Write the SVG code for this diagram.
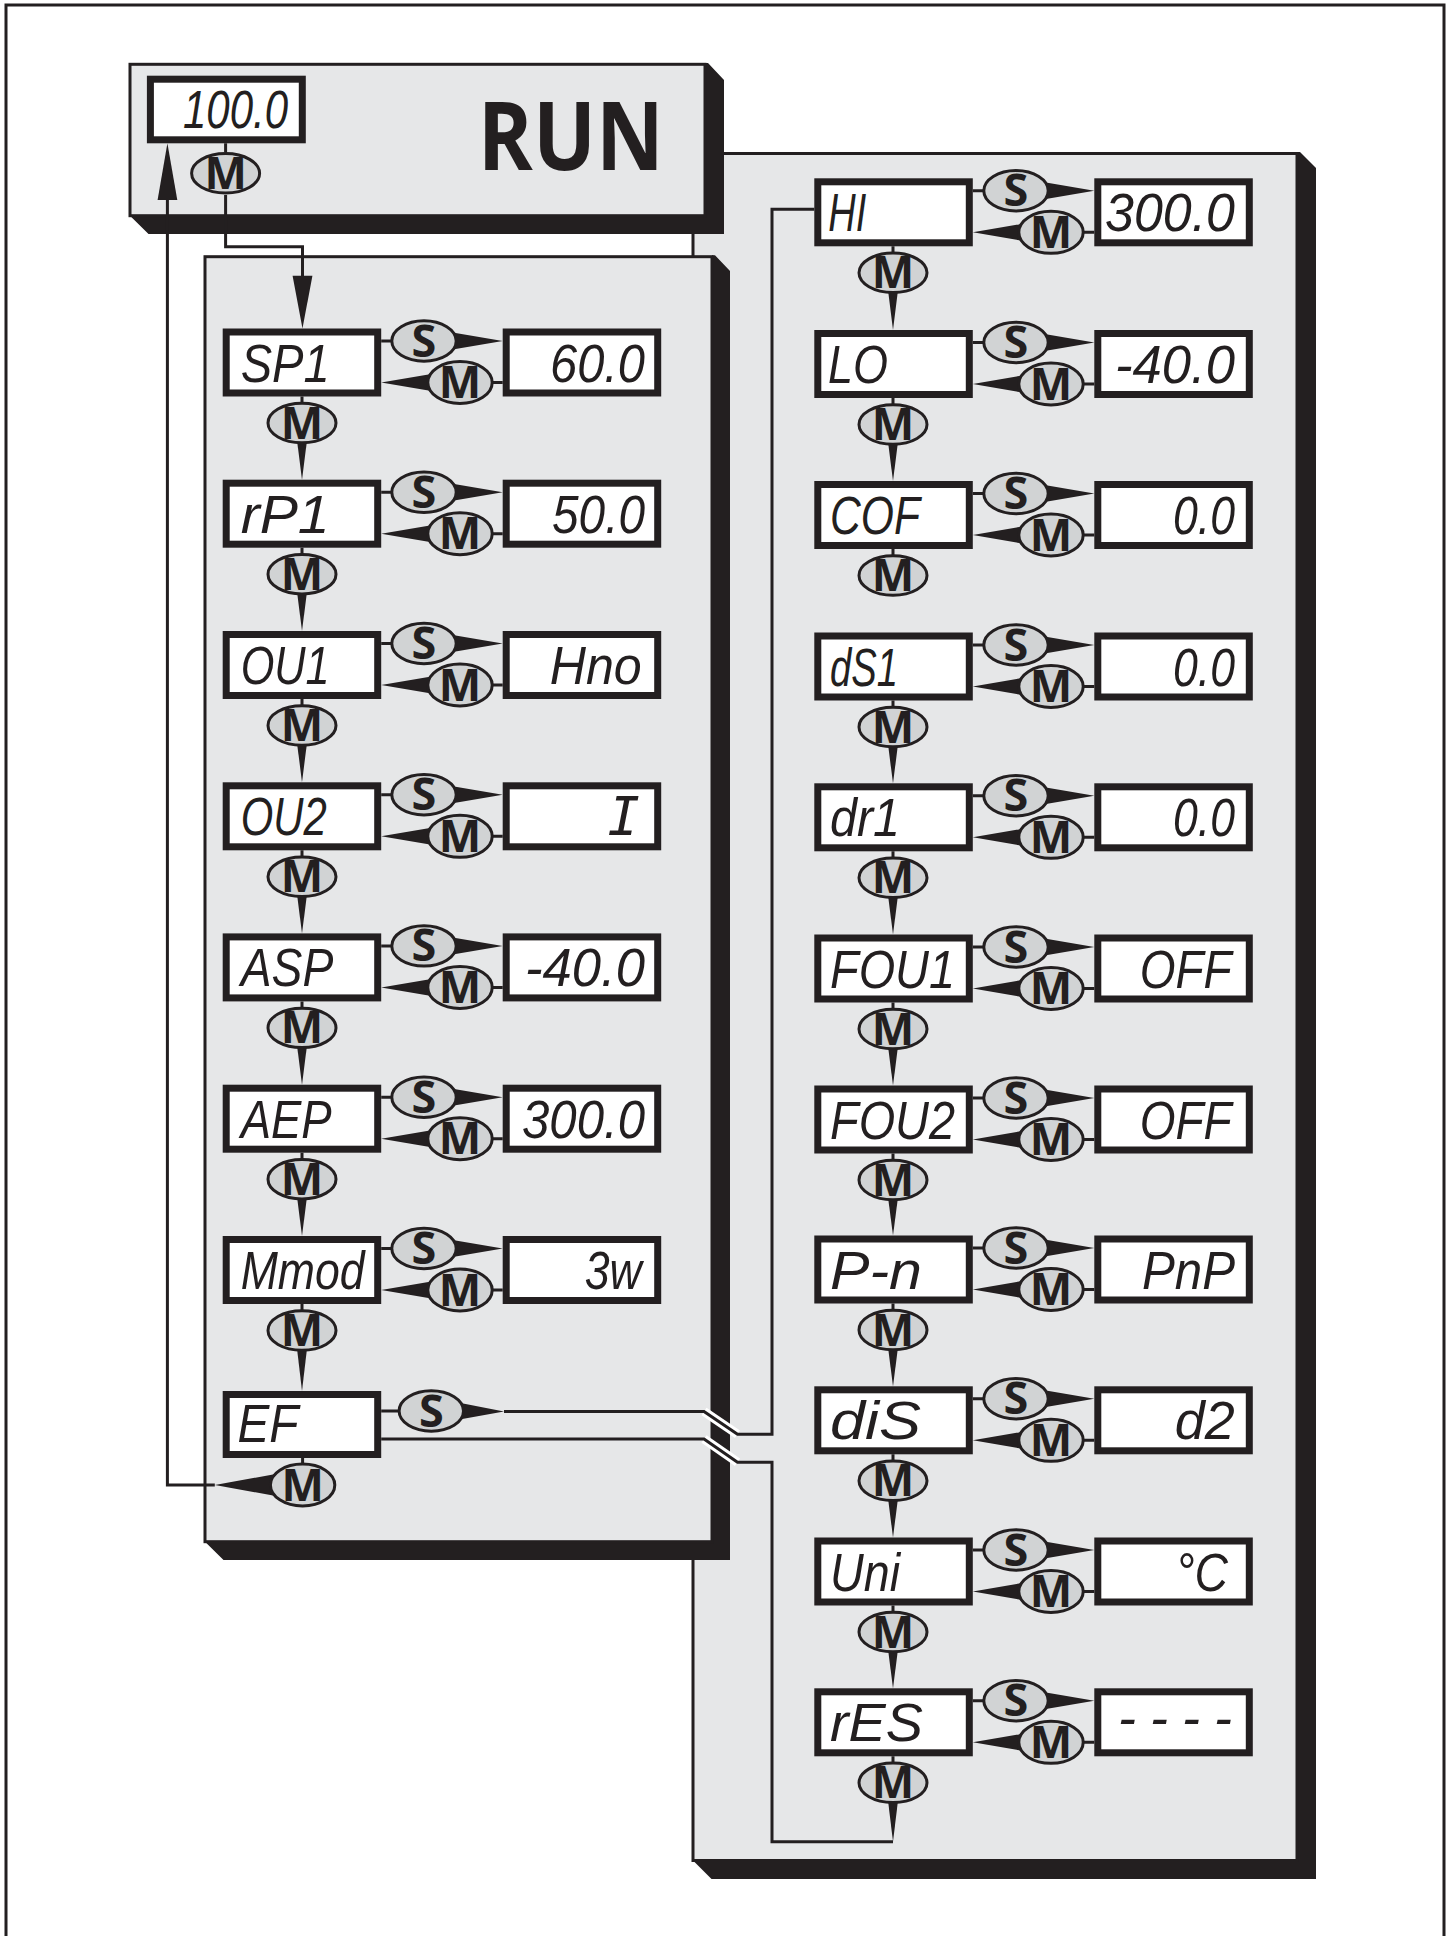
<svg xmlns="http://www.w3.org/2000/svg" width="1450" height="1936" viewBox="0 0 1450 1936">
<style>
.pnl{fill:#e6e7e8;stroke:#231f20;stroke-width:3}
.sh{fill:#231f20}
.box{fill:#fff;stroke:#231f20;stroke-width:7}
.btn{fill:#d1d3d4;stroke:#231f20;stroke-width:3}
.bt{font-family:"Open Sans","Liberation Sans",sans-serif;font-weight:700;font-size:45px;text-anchor:middle;fill:#231f20}
.ln{fill:none;stroke:#231f20;stroke-width:3}
.cas{fill:none;stroke:#fff;stroke-width:9}
.wd{fill:#231f20}
.seg{font-family:"Liberation Sans",Arial,sans-serif;font-style:italic;font-size:54px;fill:#231f20}
.val{font-family:"Liberation Sans",Arial,sans-serif;font-style:italic;font-size:54px;fill:#231f20;text-anchor:end}
.run{font-family:"Open Sans","Liberation Sans",sans-serif;font-weight:700;font-size:95px;fill:#231f20}
</style>
<defs>
<g id="bS"><ellipse rx="32.2" ry="20.2" class="btn"/><text class="bt" y="15.5">S</text></g>
<g id="bM"><ellipse rx="32.2" ry="21" class="btn"/><text class="bt" y="15.5">M</text></g>
<g id="bV"><ellipse rx="34" ry="19.7" class="btn"/><text class="bt" y="15.5">M</text></g>
</defs>
<rect width="1450" height="1936" fill="#fff"/>
<path d="M6,1936 V5 H1444 V1936" fill="none" stroke="#231f20" stroke-width="3"/>

<g id="panels">
<g id="panel-ext">
<polygon class="sh" points="1296,152 1300,152 1316,168 1316,1879 711.5,1879 693,1860.5 1296,1860.5"/>
<rect class="pnl" x="693" y="153.5" width="604" height="1707"/>
</g>
<g id="panel-run">
<polygon class="sh" points="705,63 708,63 724,80 724,234 148.5,234 130,215.7 705,215.7"/>
<rect class="pnl" x="130" y="64.3" width="575" height="151.4"/>
<text class="run" x="477.8" y="170" textLength="186" lengthAdjust="spacingAndGlyphs">RUN</text>
</g>
<g id="panel-param">
<polygon class="sh" points="712,255.2 715,255.2 730,271 730,1560 223.5,1560 205,1541.7 712,1541.7"/>
<rect class="pnl" x="205" y="256.7" width="507" height="1285"/>
</g>
</g>

<g id="connectors">
<path class="ln" d="M225.6,143.3 V152 M225.6,195 V246.7 H302.5 V278"/>
<polygon class="wd" points="292.6,275.7 312.4,275.7 302.5,328.5"/>
<path class="ln" d="M214.8,1485 H167.4 V200"/>
<polygon class="wd" points="157.6,200 177.3,200 167.4,143.3"/>
<path class="cas" d="M704,1411.5 L737.5,1434.3 M704,1439 L737.5,1462.3"/>
<path class="ln" d="M504,1411.5 H704 L737.5,1434.3 H772 V209.3 H814.3"/>
<path class="ln" d="M381.2,1439 H704 L737.5,1462.3 H772 V1841.7 H893"/>
<path class="ln" d="M381.2,1411 H399 M302.6,1458 V1464"/>
<polygon class="wd" points="440,1399 440,1423 504,1411.5"/>
<polygon class="wd" points="292,1471 292,1499 214.8,1485"/>
<!-- left column -->
<path class="ln" d="M381.2,341H391 M493,382.5H502.7 M302,396.5V403.5"/>
<polygon class="wd" points="432,329 432,353 502.7,341"/><polygon class="wd" points="452,370.5 452,394.5 381.2,382.5"/><polygon class="wd" points="296,432.5 308,432.5 302,479.7"/>
<path class="ln" d="M381.2,492.2H391 M493,533.7H502.7 M302,547.7V554.7"/>
<polygon class="wd" points="432,480.2 432,504.2 502.7,492.2"/><polygon class="wd" points="452,521.7 452,545.7 381.2,533.7"/><polygon class="wd" points="296,583.7 308,583.7 302,631"/>
<path class="ln" d="M381.2,643.5H391 M493,685H502.7 M302,699V706"/>
<polygon class="wd" points="432,631.5 432,655.5 502.7,643.5"/><polygon class="wd" points="452,673 452,697 381.2,685"/><polygon class="wd" points="296,735 308,735 302,782.3"/>
<path class="ln" d="M381.2,794.8H391 M493,836.3H502.7 M302,850.3V857.3"/>
<polygon class="wd" points="432,782.8 432,806.8 502.7,794.8"/><polygon class="wd" points="452,824.3 452,848.3 381.2,836.3"/><polygon class="wd" points="296,886.3 308,886.3 302,933.4"/>
<path class="ln" d="M381.2,945.9H391 M493,987.4H502.7 M302,1001.4V1008.4"/>
<polygon class="wd" points="432,933.9 432,957.9 502.7,945.9"/><polygon class="wd" points="452,975.4 452,999.4 381.2,987.4"/><polygon class="wd" points="296,1037.4 308,1037.4 302,1084.7"/>
<path class="ln" d="M381.2,1097.2H391 M493,1138.7H502.7 M302,1152.7V1159.7"/>
<polygon class="wd" points="432,1085.2 432,1109.2 502.7,1097.2"/><polygon class="wd" points="452,1126.7 452,1150.7 381.2,1138.7"/><polygon class="wd" points="296,1188.7 308,1188.7 302,1236"/>
<path class="ln" d="M381.2,1248.5H391 M493,1290H502.7 M302,1304V1311"/>
<polygon class="wd" points="432,1236.5 432,1260.5 502.7,1248.5"/><polygon class="wd" points="452,1278 452,1302 381.2,1290"/><polygon class="wd" points="296,1340 308,1340 302,1391"/>
<!-- right column -->
<path class="ln" d="M972.8,190.8H983 M1084,232.3H1094.3 M893,246.3V253.3"/>
<polygon class="wd" points="1024,178.8 1024,202.8 1094.3,190.8"/><polygon class="wd" points="1043,220.3 1043,244.3 972.8,232.3"/><polygon class="wd" points="887,282.3 899,282.3 893,330"/>
<path class="ln" d="M972.8,342.5H983 M1084,384H1094.3 M893,398V405"/>
<polygon class="wd" points="1024,330.5 1024,354.5 1094.3,342.5"/><polygon class="wd" points="1043,372 1043,396 972.8,384"/><polygon class="wd" points="887,434 899,434 893,481"/>
<path class="ln" d="M972.8,493.5H983 M1084,535H1094.3 M893,549V556"/>
<polygon class="wd" points="1024,481.5 1024,505.5 1094.3,493.5"/><polygon class="wd" points="1043,523 1043,547 972.8,535"/>
<path class="ln" d="M972.8,645H983 M1084,686.5H1094.3 M893,700.5V707.5"/>
<polygon class="wd" points="1024,633 1024,657 1094.3,645"/><polygon class="wd" points="1043,674.5 1043,698.5 972.8,686.5"/><polygon class="wd" points="887,736.5 899,736.5 893,783.3"/>
<path class="ln" d="M972.8,795.8H983 M1084,837.3H1094.3 M893,851.3V858.3"/>
<polygon class="wd" points="1024,783.8 1024,807.8 1094.3,795.8"/><polygon class="wd" points="1043,825.3 1043,849.3 972.8,837.3"/><polygon class="wd" points="887,887.3 899,887.3 893,934.5"/>
<path class="ln" d="M972.8,947H983 M1084,988.5H1094.3 M893,1002.5V1009.5"/>
<polygon class="wd" points="1024,935 1024,959 1094.3,947"/><polygon class="wd" points="1043,976.5 1043,1000.5 972.8,988.5"/><polygon class="wd" points="887,1038.5 899,1038.5 893,1085.5"/>
<path class="ln" d="M972.8,1098H983 M1084,1139.5H1094.3 M893,1153.5V1160.5"/>
<polygon class="wd" points="1024,1086 1024,1110 1094.3,1098"/><polygon class="wd" points="1043,1127.5 1043,1151.5 972.8,1139.5"/><polygon class="wd" points="887,1189.5 899,1189.5 893,1235.5"/>
<path class="ln" d="M972.8,1248H983 M1084,1289.5H1094.3 M893,1303.5V1310.5"/>
<polygon class="wd" points="1024,1236 1024,1260 1094.3,1248"/><polygon class="wd" points="1043,1277.5 1043,1301.5 972.8,1289.5"/><polygon class="wd" points="887,1339.5 899,1339.5 893,1386.3"/>
<path class="ln" d="M972.8,1398.8H983 M1084,1440.3H1094.3 M893,1454.3V1461.3"/>
<polygon class="wd" points="1024,1386.8 1024,1410.8 1094.3,1398.8"/><polygon class="wd" points="1043,1428.3 1043,1452.3 972.8,1440.3"/><polygon class="wd" points="887,1490.3 899,1490.3 893,1537.5"/>
<path class="ln" d="M972.8,1550H983 M1084,1591.5H1094.3 M893,1605.5V1612.5"/>
<polygon class="wd" points="1024,1538 1024,1562 1094.3,1550"/><polygon class="wd" points="1043,1579.5 1043,1603.5 972.8,1591.5"/><polygon class="wd" points="887,1641.5 899,1641.5 893,1688.3"/>
<path class="ln" d="M972.8,1700.8H983 M1084,1742.3H1094.3 M893,1756.3V1763.3"/>
<polygon class="wd" points="1024,1688.8 1024,1712.8 1094.3,1700.8"/><polygon class="wd" points="1043,1730.3 1043,1754.3 972.8,1742.3"/><polygon class="wd" points="887,1792.3 899,1792.3 893,1841.7"/>
</g>

<g id="nodes">
<g id="n-display"><rect class="box" x="150.4" y="79.2" width="151.9" height="60.6"/><text class="val" x="288" y="128.3" textLength="105" lengthAdjust="spacingAndGlyphs">100.0</text></g>
<use id="b-run-M" href="#bV" x="225.6" y="173.3"/>

<g id="n-SP1"><rect class="box" x="226.2" y="332" width="151.5" height="61"/><text class="seg" x="240.7" y="381.5" textLength="89" lengthAdjust="spacingAndGlyphs">SP1</text></g>
<g id="v-SP1"><rect class="box" x="506.2" y="332" width="151.5" height="61"/><text class="val" x="645" y="381.5" textLength="95" lengthAdjust="spacingAndGlyphs">60.0</text></g>
<use id="b-SP1-S" href="#bS" x="424" y="341"/><use id="b-SP1-M" href="#bM" x="460" y="382.5"/><use id="b-SP1-next" href="#bV" x="302" y="423"/>

<g id="n-rP1"><rect class="box" x="226.2" y="483.2" width="151.5" height="61"/><text class="seg" x="240.7" y="532.7" textLength="89" lengthAdjust="spacingAndGlyphs">rP1</text></g>
<g id="v-rP1"><rect class="box" x="506.2" y="483.2" width="151.5" height="61"/><text class="val" x="645" y="532.7" textLength="93" lengthAdjust="spacingAndGlyphs">50.0</text></g>
<use id="b-rP1-S" href="#bS" x="424" y="492.2"/><use id="b-rP1-M" href="#bM" x="460" y="533.7"/><use id="b-rP1-next" href="#bV" x="302" y="574.2"/>

<g id="n-OU1"><rect class="box" x="226.2" y="634.5" width="151.5" height="61"/><text class="seg" x="240.7" y="684" textLength="89" lengthAdjust="spacingAndGlyphs">OU1</text></g>
<g id="v-OU1"><rect class="box" x="506.2" y="634.5" width="151.5" height="61"/><text class="val" x="641.7" y="684" textLength="92" lengthAdjust="spacingAndGlyphs">Hno</text></g>
<use id="b-OU1-S" href="#bS" x="424" y="643.5"/><use id="b-OU1-M" href="#bM" x="460" y="685"/><use id="b-OU1-next" href="#bV" x="302" y="725.5"/>

<g id="n-OU2"><rect class="box" x="226.2" y="785.8" width="151.5" height="61"/><text class="seg" x="240.7" y="835.3" textLength="86" lengthAdjust="spacingAndGlyphs">OU2</text></g>
<g id="v-OU2"><rect class="box" x="506.2" y="785.8" width="151.5" height="61"/><text class="val" x="640" y="835.3" style="font-family:'DejaVu Sans Mono',monospace">I</text></g>
<use id="b-OU2-S" href="#bS" x="424" y="794.8"/><use id="b-OU2-M" href="#bM" x="460" y="836.3"/><use id="b-OU2-next" href="#bV" x="302" y="876.8"/>

<g id="n-ASP"><rect class="box" x="226.2" y="936.9" width="151.5" height="61"/><text class="seg" x="240.7" y="986.4" textLength="92.6" lengthAdjust="spacingAndGlyphs">ASP</text></g>
<g id="v-ASP"><rect class="box" x="506.2" y="936.9" width="151.5" height="61"/><text class="val" x="645" y="986.4" textLength="120" lengthAdjust="spacingAndGlyphs">-40.0</text></g>
<use id="b-ASP-S" href="#bS" x="424" y="945.9"/><use id="b-ASP-M" href="#bM" x="460" y="987.4"/><use id="b-ASP-next" href="#bV" x="302" y="1027.9"/>

<g id="n-AEP"><rect class="box" x="226.2" y="1088.2" width="151.5" height="61"/><text class="seg" x="240.7" y="1137.7" textLength="91" lengthAdjust="spacingAndGlyphs">AEP</text></g>
<g id="v-AEP"><rect class="box" x="506.2" y="1088.2" width="151.5" height="61"/><text class="val" x="645" y="1137.7" textLength="123" lengthAdjust="spacingAndGlyphs">300.0</text></g>
<use id="b-AEP-S" href="#bS" x="424" y="1097.2"/><use id="b-AEP-M" href="#bM" x="460" y="1138.7"/><use id="b-AEP-next" href="#bV" x="302" y="1179.2"/>

<g id="n-Mmod"><rect class="box" x="226.2" y="1239.5" width="151.5" height="61"/><text class="seg" x="240.7" y="1289" textLength="124" lengthAdjust="spacingAndGlyphs">Mmod</text></g>
<g id="v-Mmod"><rect class="box" x="506.2" y="1239.5" width="151.5" height="61"/><text class="val" x="641.7" y="1289" textLength="57" lengthAdjust="spacingAndGlyphs">3w</text></g>
<use id="b-Mmod-S" href="#bS" x="424" y="1248.5"/><use id="b-Mmod-M" href="#bM" x="460" y="1290"/><use id="b-Mmod-next" href="#bV" x="302" y="1330.5"/>

<g id="n-EF"><rect class="box" x="226.2" y="1394.5" width="151.5" height="60"/><text class="seg" x="237.5" y="1442" textLength="61" lengthAdjust="spacingAndGlyphs">EF</text></g>
<use id="b-EF-S" href="#bS" x="431.3" y="1411"/><use id="b-EF-M" href="#bM" x="302.6" y="1485"/>

<g id="n-HI"><rect class="box" x="817.8" y="181.8" width="151.5" height="61"/><text class="seg" x="828.3" y="231.3" textLength="38" lengthAdjust="spacingAndGlyphs">HI</text></g>
<g id="v-HI"><rect class="box" x="1097.8" y="181.8" width="151.5" height="61"/><text class="val" x="1235" y="231.3" textLength="130" lengthAdjust="spacingAndGlyphs">300.0</text></g>
<use id="b-HI-S" href="#bS" x="1016" y="190.8"/><use id="b-HI-M" href="#bM" x="1051" y="232.3"/><use id="b-HI-next" href="#bV" x="893" y="272.8"/>

<g id="n-LO"><rect class="box" x="817.8" y="333.5" width="151.5" height="61"/><text class="seg" x="828" y="383" textLength="60" lengthAdjust="spacingAndGlyphs">LO</text></g>
<g id="v-LO"><rect class="box" x="1097.8" y="333.5" width="151.5" height="61"/><text class="val" x="1235" y="383" textLength="120" lengthAdjust="spacingAndGlyphs">-40.0</text></g>
<use id="b-LO-S" href="#bS" x="1016" y="342.5"/><use id="b-LO-M" href="#bM" x="1051" y="384"/><use id="b-LO-next" href="#bV" x="893" y="424.5"/>

<g id="n-COF"><rect class="box" x="817.8" y="484.5" width="151.5" height="61"/><text class="seg" x="830" y="534" textLength="90" lengthAdjust="spacingAndGlyphs">COF</text></g>
<g id="v-COF"><rect class="box" x="1097.8" y="484.5" width="151.5" height="61"/><text class="val" x="1235" y="534" textLength="62" lengthAdjust="spacingAndGlyphs">0.0</text></g>
<use id="b-COF-S" href="#bS" x="1016" y="493.5"/><use id="b-COF-M" href="#bM" x="1051" y="535"/><use id="b-COF-next" href="#bV" x="893" y="575.5"/>

<g id="n-dS1"><rect class="box" x="817.8" y="636" width="151.5" height="61"/><text class="seg" x="830" y="685.5" textLength="68" lengthAdjust="spacingAndGlyphs">dS1</text></g>
<g id="v-dS1"><rect class="box" x="1097.8" y="636" width="151.5" height="61"/><text class="val" x="1235" y="685.5" textLength="62" lengthAdjust="spacingAndGlyphs">0.0</text></g>
<use id="b-dS1-S" href="#bS" x="1016" y="645"/><use id="b-dS1-M" href="#bM" x="1051" y="686.5"/><use id="b-dS1-next" href="#bV" x="893" y="727"/>

<g id="n-dr1"><rect class="box" x="817.8" y="786.8" width="151.5" height="61"/><text class="seg" x="830" y="836.3" textLength="70" lengthAdjust="spacingAndGlyphs">dr1</text></g>
<g id="v-dr1"><rect class="box" x="1097.8" y="786.8" width="151.5" height="61"/><text class="val" x="1235" y="836.3" textLength="62" lengthAdjust="spacingAndGlyphs">0.0</text></g>
<use id="b-dr1-S" href="#bS" x="1016" y="795.8"/><use id="b-dr1-M" href="#bM" x="1051" y="837.3"/><use id="b-dr1-next" href="#bV" x="893" y="877.8"/>

<g id="n-FOU1"><rect class="box" x="817.8" y="938" width="151.5" height="61"/><text class="seg" x="830" y="987.5" textLength="125" lengthAdjust="spacingAndGlyphs">FOU1</text></g>
<g id="v-FOU1"><rect class="box" x="1097.8" y="938" width="151.5" height="61"/><text class="val" x="1231.7" y="987.5" textLength="92" lengthAdjust="spacingAndGlyphs">OFF</text></g>
<use id="b-FOU1-S" href="#bS" x="1016" y="947"/><use id="b-FOU1-M" href="#bM" x="1051" y="988.5"/><use id="b-FOU1-next" href="#bV" x="893" y="1029"/>

<g id="n-FOU2"><rect class="box" x="817.8" y="1089" width="151.5" height="61"/><text class="seg" x="830" y="1138.5" textLength="125" lengthAdjust="spacingAndGlyphs">FOU2</text></g>
<g id="v-FOU2"><rect class="box" x="1097.8" y="1089" width="151.5" height="61"/><text class="val" x="1231.7" y="1138.5" textLength="92" lengthAdjust="spacingAndGlyphs">OFF</text></g>
<use id="b-FOU2-S" href="#bS" x="1016" y="1098"/><use id="b-FOU2-M" href="#bM" x="1051" y="1139.5"/><use id="b-FOU2-next" href="#bV" x="893" y="1180"/>

<g id="n-Pn"><rect class="box" x="817.8" y="1239" width="151.5" height="61"/><text class="seg" x="830" y="1288.5" textLength="92" lengthAdjust="spacingAndGlyphs">P-n</text></g>
<g id="v-Pn"><rect class="box" x="1097.8" y="1239" width="151.5" height="61"/><text class="val" x="1235" y="1288.5" textLength="93" lengthAdjust="spacingAndGlyphs">PnP</text></g>
<use id="b-Pn-S" href="#bS" x="1016" y="1248"/><use id="b-Pn-M" href="#bM" x="1051" y="1289.5"/><use id="b-Pn-next" href="#bV" x="893" y="1330"/>

<g id="n-diS"><rect class="box" x="817.8" y="1389.8" width="151.5" height="61"/><text class="seg" x="830" y="1439.3" textLength="91" lengthAdjust="spacingAndGlyphs">diS</text></g>
<g id="v-diS"><rect class="box" x="1097.8" y="1389.8" width="151.5" height="61"/><text class="val" x="1234.8" y="1439.3" textLength="60" lengthAdjust="spacingAndGlyphs">d2</text></g>
<use id="b-diS-S" href="#bS" x="1016" y="1398.8"/><use id="b-diS-M" href="#bM" x="1051" y="1440.3"/><use id="b-diS-next" href="#bV" x="893" y="1480.8"/>

<g id="n-Uni"><rect class="box" x="817.8" y="1541" width="151.5" height="61"/><text class="seg" x="830" y="1590.5" textLength="70" lengthAdjust="spacingAndGlyphs">Uni</text></g>
<g id="v-Uni"><rect class="box" x="1097.8" y="1541" width="151.5" height="61"/><text class="val" x="1228" y="1590.5" textLength="52" lengthAdjust="spacingAndGlyphs">°C</text></g>
<use id="b-Uni-S" href="#bS" x="1016" y="1550"/><use id="b-Uni-M" href="#bM" x="1051" y="1591.5"/><use id="b-Uni-next" href="#bV" x="893" y="1632"/>

<g id="n-rES"><rect class="box" x="817.8" y="1691.8" width="151.5" height="61"/><text class="seg" x="830" y="1741.3" textLength="93" lengthAdjust="spacingAndGlyphs">rES</text></g>
<g id="v-rES"><rect class="box" x="1097.8" y="1691.8" width="151.5" height="61"/><text class="val" x="1232" y="1736.3" textLength="114" lengthAdjust="spacing">----</text></g>
<use id="b-rES-S" href="#bS" x="1016" y="1700.8"/><use id="b-rES-M" href="#bM" x="1051" y="1742.3"/><use id="b-rES-next" href="#bV" x="893" y="1782.8"/>
</g>
</svg>
